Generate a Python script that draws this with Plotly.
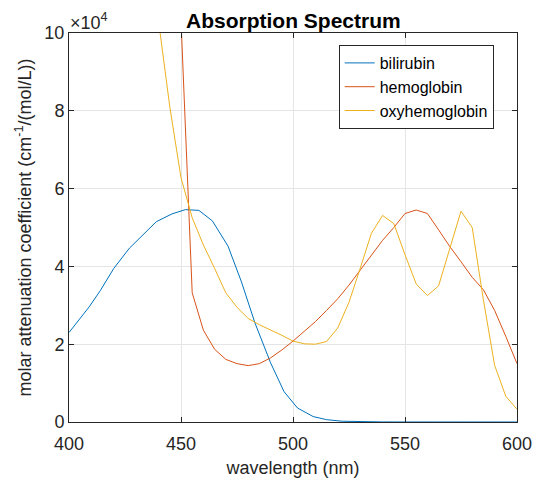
import plotly.graph_objects as go

# values in units of 10^4 cm^-1/(mol/L)
bil_wl = [400, 409, 414, 420, 427, 434, 439, 446, 452, 458, 464, 471, 477, 483, 490, 496,
          502, 509, 515, 522, 530, 540, 550, 560, 570, 580, 590, 600]
bil = [2.30, 2.96, 3.38, 3.95, 4.47, 4.88, 5.15, 5.35, 5.46, 5.44, 5.17, 4.52, 3.60, 2.55,
       1.52, 0.78, 0.36, 0.14, 0.06, 0.02, 0.006, 0.002, 0.001, 0.0, 0.0, 0.0, 0.0, 0.0]

hb_wl = [400, 410, 420, 430, 440, 445, 450, 455, 460, 465, 470, 475, 480, 485, 490, 495, 500,
         505, 510, 515, 520, 525, 530, 535, 540, 545, 550, 555, 560, 565, 570, 575, 580, 585,
         590, 595, 600]
hb = [22.33, 30.40, 40.76, 52.86, 41.33, 25.0, 10.33, 3.32, 2.36, 1.87, 1.61, 1.50, 1.45, 1.50,
      1.65, 1.85, 2.08, 2.33, 2.58, 2.87, 3.17, 3.52, 3.90, 4.29, 4.67, 5.00, 5.36, 5.45, 5.36,
      4.94, 4.51, 4.12, 3.72, 3.40, 2.87, 2.20, 1.50]

oxy_wl = [400, 410, 420, 430, 440, 445, 450, 455, 460, 465, 470, 475, 480, 485, 490, 495, 500,
          505, 510, 515, 520, 525, 530, 535, 540, 545, 550, 555, 560, 565, 570, 575, 580, 585,
          590, 595, 600]
oxy = [26.62, 46.68, 48.04, 24.61, 10.30, 8.10, 6.28, 5.25, 4.55, 3.95, 3.32, 2.95, 2.66, 2.50,
       2.37, 2.23, 2.08, 2.01, 2.00, 2.07, 2.42, 3.08, 3.95, 4.85, 5.31, 5.10, 4.30, 3.55, 3.25,
       3.50, 4.46, 5.42, 5.00, 3.14, 1.46, 0.66, 0.33]

series = [("bilirubin", bil_wl, bil, "#0072BD"),
          ("hemoglobin", hb_wl, hb, "#D95319"),
          ("oxyhemoglobin", oxy_wl, oxy, "#EDB120")]

FONT = "Liberation Sans, Arial, Helvetica, sans-serif"
DARK = "#262626"

fig = go.Figure()
for name, x, y, c in series:
    fig.add_trace(go.Scatter(x=x, y=y, mode="lines", name=name,
                             line=dict(color=c, width=1)))

axis_common = dict(showline=True, linecolor=DARK, linewidth=1, mirror="ticks",
                   ticks="inside", ticklen=5, tickcolor=DARK, showgrid=True,
                   gridcolor="#e5e5e5", gridwidth=1, zeroline=False, automargin=False,
                   ticklabeloverflow="allow",
                   tickfont=dict(family=FONT, size=18, color=DARK))

fig.update_xaxes(range=[400, 600], tickvals=[400, 450, 500, 550, 600], ticklabelstandoff=5,
                 title=dict(text="wavelength (nm)", font=dict(family=FONT, size=18, color=DARK),
                            standoff=8),
                 **axis_common)
fig.update_yaxes(range=[0, 10], tickvals=[0, 2, 4, 6, 8, 10],
                 title=dict(text="molar attenuation coefficient (cm<sup>-1</sup>/(mol/L))",
                            font=dict(family=FONT, size=18, color=DARK), standoff=8),
                 **axis_common)

fig.update_layout(
    width=534, height=481,
    margin=dict(l=69, r=17, t=33, b=59),
    paper_bgcolor="white", plot_bgcolor="white",
    legend=dict(x=0.602, y=1 - (45 - 33) / 389, xanchor="left", yanchor="top",
                bgcolor="white", bordercolor=DARK, borderwidth=1,
                font=dict(family=FONT, size=16, color="black"),
                tracegroupgap=0, itemwidth=30),
    showlegend=True,
    annotations=[
        dict(text="<b>Absorption Spectrum</b>", xref="paper", yref="paper", x=0.5,
             y=1 + (33 - 21) / 389, xanchor="center", yanchor="middle", showarrow=False,
             font=dict(family=FONT, size=21, color="black")),
        dict(text="×10<sup>4</sup>", xref="paper", yref="paper", x=0, y=1,
             xanchor="left", yanchor="bottom", showarrow=False, xshift=-1, yshift=-2,
             font=dict(family=FONT, size=18, color=DARK)),
    ],
)

fig.write_html("out.html", config={"displayModeBar": False},
               post_script="document.body.style.margin='0';document.body.style.padding='0';")
